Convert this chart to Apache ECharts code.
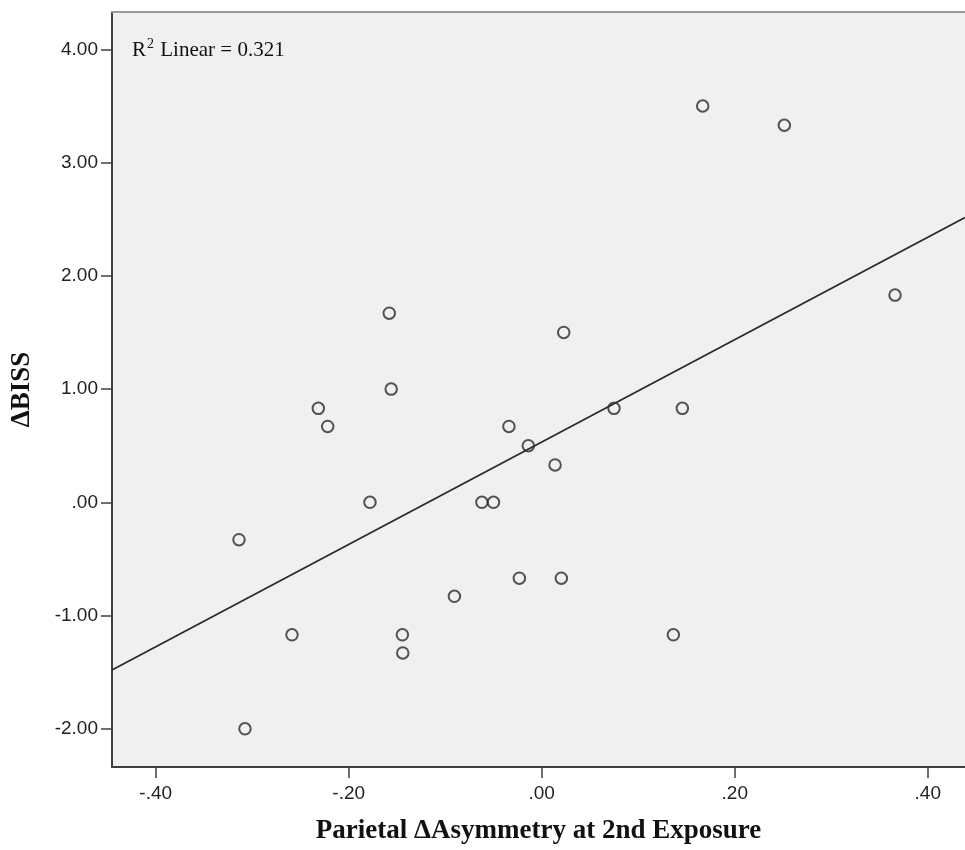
<!DOCTYPE html>
<html>
<head>
<meta charset="utf-8">
<script src="https://cdn.jsdelivr.net/npm/echarts@6/dist/echarts.min.js"></script>
<style>
html,body{margin:0;padding:0;background:#ffffff;}
#chart{width:965px;height:850px;}
</style>
</head>
<body>
<div id="chart"></div>
<script>
// ---- data ----
const asymmetry = [-0.158, -0.156, -0.2315, -0.2218, -0.034, -0.178, -0.062, -0.050,
                   -0.3137, -0.2588, -0.1444, -0.144, -0.0905, -0.3075, -0.0232, 0.0203,
                   0.0228, 0.0749, 0.1457, -0.0139, 0.0138, 0.1668, 0.2514, 0.3661, 0.1364];
const deltaBISS = [1.67, 1.00, 0.83, 0.67, 0.67, 0.00, 0.00, 0.00,
                   -0.33, -1.17, -1.17, -1.33, -0.83, -2.00, -0.67, -0.67,
                   1.50, 0.83, 0.83, 0.50, 0.33, 3.50, 3.33, 1.83, -1.17];
const xTicks = [-0.4, -0.2, 0, 0.2, 0.4];
const yTicks = [-2, -1, 0, 1, 2, 3, 4];
const xRange = [-0.4453, 0.4386];
const yRange = [-2.337, 4.33];
const fitIntercept = 0.533;
const fitSlope = 4.52;
const rSquaredText = '0.321';
const xTitle = 'Parietal \u0394Asymmetry at 2nd Exposure';
const yTitle = '\u0394BISS';

// ---- build ----
const points = asymmetry.map((x, i) => [x, deltaBISS[i]]);
const fitLine = xRange.map(x => [x, fitIntercept + fitSlope * x]);
function spssFmt(v) {
  let s = Math.abs(v).toFixed(2);
  if (s.startsWith('0.')) s = s.slice(1);
  return (v < -1e-9 ? '-' : '') + s;
}

const chart = echarts.init(document.getElementById('chart'), null, {renderer: 'canvas'});
const darkAxis = '#404040';
const labelFont = {fontFamily: 'Liberation Sans', fontSize: 19, color: '#222222'};
const titleFont = {fontFamily: 'Liberation Serif', fontWeight: 'bold', fontSize: 27, color: '#111111'};

chart.setOption({
  animation: false,
  backgroundColor: '#ffffff',
  grid: {left: 112, right: 0, top: 12, bottom: 80, show: true, backgroundColor: '#f0f0f0', borderWidth: 0},
  xAxis: [{
    type: 'value', min: xRange[0], max: xRange[1],
    position: 'bottom',
    name: xTitle, nameLocation: 'middle', nameGap: 51,
    nameTextStyle: titleFont,
    axisLine: {show: true, onZero: false, lineStyle: {color: darkAxis, width: 2}},
    axisTick: {show: true, length: 11, customValues: xTicks, lineStyle: {color: darkAxis, width: 1.5}},
    axisLabel: Object.assign({show: true, margin: 17, customValues: xTicks, formatter: spssFmt}, labelFont),
    splitLine: {show: false}
  }, {
    type: 'value', min: xRange[0], max: xRange[1],
    position: 'top',
    axisLine: {show: true, onZero: false, lineStyle: {color: '#9a9a9a', width: 2}},
    axisTick: {show: false}, axisLabel: {show: false}, splitLine: {show: false}
  }],
  yAxis: [{
    type: 'value', min: yRange[0], max: yRange[1],
    name: yTitle, nameLocation: 'middle', nameGap: 76,
    nameTextStyle: titleFont,
    axisLine: {show: true, onZero: false, lineStyle: {color: darkAxis, width: 2}},
    axisTick: {show: true, length: 11, customValues: yTicks, lineStyle: {color: darkAxis, width: 1.5}},
    axisLabel: Object.assign({show: true, margin: 14, customValues: yTicks, formatter: spssFmt}, labelFont),
    splitLine: {show: false}
  }],
  graphic: [{
    type: 'text', left: 132, top: 37, z: 100,
    style: {
      text: '{a|R}{s|2}{a| Linear = ' + rSquaredText + '}',
      rich: {
        a: {fontFamily: 'Liberation Serif', fontSize: 21, lineHeight: 24, fill: '#111111', verticalAlign: 'bottom'},
        s: {fontFamily: 'Liberation Serif', fontSize: 14, lineHeight: 22, fill: '#111111', verticalAlign: 'top', padding: [0, 1, 0, 1]}
      }
    }
  }],
  series: [{
    type: 'line', data: fitLine, showSymbol: false, silent: true,
    lineStyle: {color: '#2a2a2a', width: 1.8}, z: 2
  }, {
    type: 'scatter', data: points, symbol: 'circle', symbolSize: 11.5,
    itemStyle: {color: 'rgba(0,0,0,0)', borderColor: '#2a2a2a', borderWidth: 2},
    z: 3
  }]
});
</script>
</body>
</html>
